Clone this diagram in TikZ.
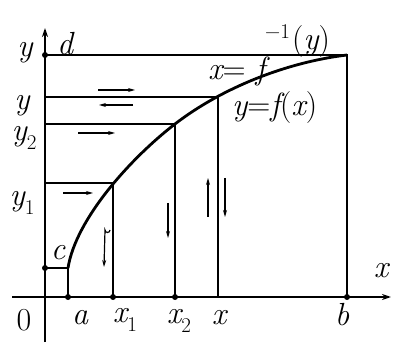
\documentclass[tikz,border=0pt]{standalone}
\usetikzlibrary{arrows.meta}
\newcommand{\mysub}[1]{\raisebox{-0.3em}{\fontsize{21}{24}\selectfont #1}}
\newcommand{\mysup}[1]{\raisebox{1.3em}{\fontsize{21}{24}\selectfont #1}}
\begin{document}
\begin{tikzpicture}[x=1pt,y=-1pt,
  lab/.style={inner sep=0pt,font=\fontsize{32}{36}\selectfont\itshape},
  thin line/.style={line width=1.4pt},
  axis/.style={line width=1.8pt,-{Stealth[length=9pt,width=6pt]}},
  curveln/.style={line width=2.8pt},
  flow/.style={line width=1.2pt,-{Stealth[length=7pt,width=4pt]}},
  dot/.style={circle,fill=black,inner sep=0pt,minimum size=6pt}]
\useasboundingbox (0,0) rectangle (393,344);
% key coordinates
\coordinate (O) at (45,297);
\coordinate (yb) at (45,342);
\coordinate (yt) at (45,28);
\coordinate (xl) at (12,297);
\coordinate (xr) at (391,297);
\coordinate (D) at (45,55);
\coordinate (C) at (45,268);
\coordinate (P0) at (68,268);
\coordinate (A) at (68,297);
\coordinate (P1) at (113,183);
\coordinate (X1) at (113,297);
\coordinate (Y1) at (45,183);
\coordinate (P2) at (175,124);
\coordinate (X2) at (175,297);
\coordinate (Y2) at (45,124);
\coordinate (P) at (218,97);
\coordinate (X) at (218,297);
\coordinate (Y) at (45,97);
\coordinate (Pb) at (347,55);
\coordinate (B) at (347,297);
% axes
\draw[axis] (xl) -- (xr);
\draw[axis] (yb) -- (yt);
% grid lines
\draw[thin line] (D) -- (Pb) -- (B);
\draw[thin line] (Y) -- (P) -- (X);
\draw[thin line] (Y2) -- (P2) -- (X2);
\draw[thin line] (Y1) -- (P1) -- (X1);
\draw[thin line] (C) -- (P0) -- (A);
% curve y = f(x)
\draw[curveln] (P0) .. controls (75.8,218.6) and (131.4,157.6) .. (P2)
  .. controls (222.5,87.4) and (287.4,62.1) .. (Pb);
% dots
\foreach \p in {D,C,A,X1,X2,B} \node[dot] at (\p) {};
% flow arrows
\draw[flow] (98,90) -- (135,90);
\draw[flow] (133,105) -- (99,105);
\draw[flow] (78,133) -- (115,133);
\draw[flow] (63,193) -- (93,193);
\draw[flow] (110,230) arc[start angle=0,end angle=180,radius=2.5] -- (104,267);
\draw[flow] (168,203) -- (168,238);
\draw[flow] (208,217) -- (208,178);
\draw[flow] (225,178) -- (225,217);
% labels
\node[lab] (ly) at (25,53) {y};
\node[lab] (ld) at (65,44) {d};
\node[lab] (lyy) at (22,106) {y};
\node[lab] (ly2) at (24,138) {y\mysub{\upshape 2}};
\node[lab] (ly1) at (22,203) {y\mysub{\upshape 1}};
\node[lab] (lc) at (58,253) {c};
\node[lab] (l0) at (24,320) {\upshape 0};
\node[lab] (la) at (80,318) {a};
\node[lab] (lx1) at (125,320) {x\mysub{\upshape 1}};
\node[lab] (lx2) at (179,321) {x\mysub{\upshape 2}};
\node[lab] (lx) at (219,318) {x};
\node[lab] (lb) at (342,315) {b};
\node[lab] (lxa) at (381,271) {x};
\node[lab,anchor=base west] (linv) at (208,80) {x{\upshape =}\hspace{10pt}f\mysup{\upshape −1}\hspace{2pt}\raisebox{30pt}{{\upshape(}y{\upshape)}}};
\node[lab,anchor=base west] (lf) at (232,116) {y{\upshape =}f{\upshape(}x{\upshape)}};
\end{tikzpicture}
\end{document}
